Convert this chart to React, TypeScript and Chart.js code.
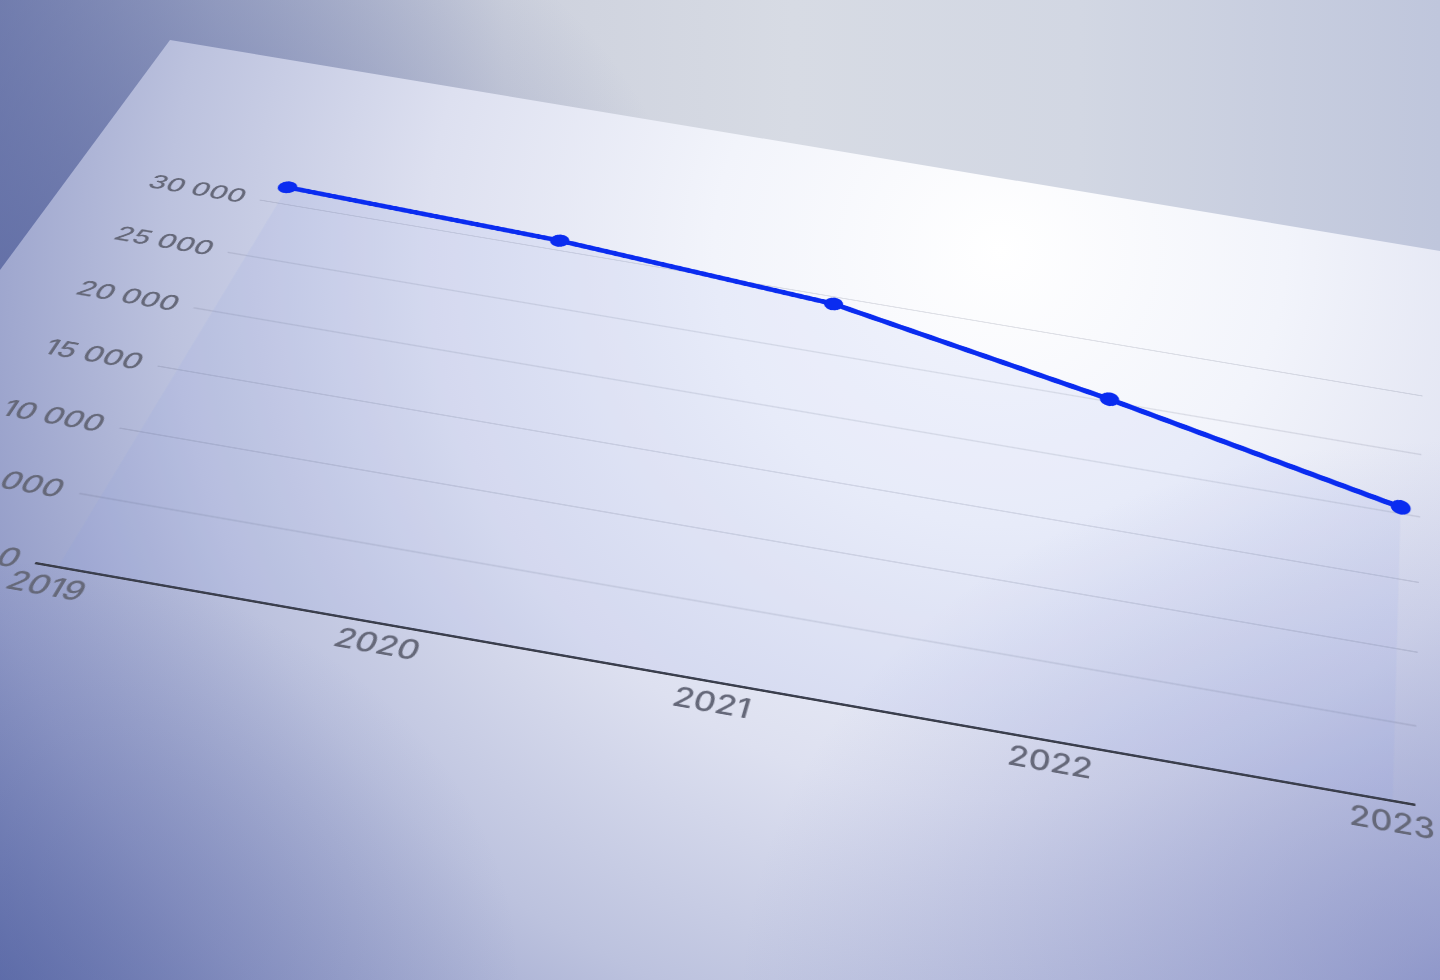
import React, { useEffect, useRef } from 'react';
import { Chart, registerables } from 'chart.js';

Chart.register(...registerables);

// ---- data ----
const years = ['2019', '2020', '2021', '2022', '2023'];
const values = [31550, 30870, 29360, 25220, 20490];
const yTicks = [0, 5000, 10000, 15000, 20000, 25000, 30000];
const yTop = 33000;
const refValue = 30000;

// ---- style ----
const FONT = 'Inter, "Open Sans", sans-serif';
const LINE = '#0a2cf0';
const TICK_COLOR = '#656879';

// Where the tilted sheet places (first year, 0), (last year, 0),
// (last year, 30000) and (first year, 30000) on screen.
const PLANE: number[][] = [
  [58, 567],
  [1393, 801],
  [1404, 392.8],
  [278, 203],
];

const CW = 1570;
const CH = 740;

const fmt = (v: number) => String(v).replace(/\B(?=(\d{3})+(?!\d))/g, ' ');

function planeMatrix(xa: number, wx: number, yb: number, hy: number) {
  const [[x0, y0], [x1, y1], [x2, y2], [x3, y3]] = PLANE;
  const dx1 = x1 - x2, dx2 = x3 - x2, dx3 = x0 - x1 + x2 - x3;
  const dy1 = y1 - y2, dy2 = y3 - y2, dy3 = y0 - y1 + y2 - y3;
  const det = dx1 * dy2 - dx2 * dy1;
  const g = (dx3 * dy2 - dx2 * dy3) / det;
  const h = (dx1 * dy3 - dx3 * dy1) / det;
  const a = x1 - x0 + g * x1, b = x3 - x0 + h * x3, c = x0;
  const d = y1 - y0 + g * y1, e = y3 - y0 + h * y3, f = y0;
  const A1 = a / wx, A2 = -b / hy, A3 = c - (a * xa) / wx + (b * yb) / hy;
  const B1 = d / wx, B2 = -e / hy, B3 = f - (d * xa) / wx + (e * yb) / hy;
  const C1 = g / wx, C2 = -h / hy, C3 = 1 - (g * xa) / wx + (h * yb) / hy;
  return `matrix3d(${A1},${B1},0,${C1},${A2},${B2},0,${C2},0,0,1,0,${A3},${B3},0,${C3})`;
}

export default function App() {
  const canvasRef = useRef<HTMLCanvasElement | null>(null);
  const wrapRef = useRef<HTMLDivElement | null>(null);

  useEffect(() => {
    const canvas = canvasRef.current;
    const wrap = wrapRef.current;
    if (!canvas || !wrap) return;
    const chart = new Chart(canvas, {
      type: 'line',
      data: {
        datasets: [
          {
            data: values.map((v, i) => ({ x: i, y: v })),
            borderColor: LINE,
            borderWidth: 8,
            pointRadius: 11,
            pointBackgroundColor: LINE,
            pointBorderColor: LINE,
            pointBorderWidth: 0,
            fill: 'origin',
            backgroundColor: 'rgba(125,140,235,0.09)',
            tension: 0,
            clip: false as any,
          },
        ],
      },
      options: {
        responsive: false,
        animation: false,
        devicePixelRatio: 2,
        layout: { padding: { left: 10, right: 40, top: 20, bottom: 10 } },
        plugins: { legend: { display: false }, tooltip: { enabled: false } },
        scales: {
          x: {
            type: 'linear',
            min: -0.065,
            max: years.length - 1 + 0.065,
            afterBuildTicks: (scale: any) => {
              scale.ticks = years.map((_, i) => ({ value: i }));
            },
            ticks: {
              autoSkip: false,
              maxRotation: 0,
              padding: 7,
              color: TICK_COLOR,
              font: { family: FONT, size: 33, weight: '500' },
              callback: (v: any) => years[v as number] ?? '',
            },
            grid: { display: false, drawTicks: false },
            border: { display: true, color: '#3a3d49', width: 3 },
          },
          y: {
            min: 0,
            max: yTop,
            afterBuildTicks: (scale: any) => {
              scale.ticks = yTicks.map((v) => ({ value: v }));
            },
            ticks: {
              autoSkip: false,
              padding: 18,
              color: TICK_COLOR,
              font: { family: FONT, size: 33, weight: '500' },
              callback: (v: any) => fmt(v as number),
            },
            grid: { color: 'rgba(70,74,100,0.15)', lineWidth: 2, drawTicks: false },
            border: { display: false },
          },
        },
      },
    } as any);
    const xs = chart.scales.x;
    const ys = chart.scales.y;
    const xa = xs.getPixelForValue(0);
    const xb = xs.getPixelForValue(years.length - 1);
    const yb = ys.getPixelForValue(0);
    const yt = ys.getPixelForValue(refValue);
    wrap.style.transform = planeMatrix(xa, xb - xa, yb, yb - yt);
    return () => chart.destroy();
  }, []);

  return (
    <div>
      <div
        style={{
          position: 'fixed',
          left: 0,
          top: 0,
          width: 1440,
          height: 980,
          background:
            'radial-gradient(ellipse 700px 500px at 0px 300px, rgba(95,108,165,0.85), rgba(95,108,165,0) 100%), linear-gradient(90deg, #7a85b2 0%, #a3abc8 15%, #cdd1dd 35%, #d7dbe4 55%, #d2d7e3 75%, #bfc6dc 100%)',
        }}
      />
      <div
        style={{
          position: 'fixed',
          left: 0,
          top: 0,
          width: 1440,
          height: 980,
          clipPath: 'polygon(170px 40px, 1440px 251px, 1440px 980px, 0px 980px, 0px 270px)',
          background:
            'radial-gradient(ellipse 700px 560px at 1440px 1000px, rgba(105,115,185,0.5), rgba(105,115,185,0) 100%), radial-gradient(ellipse 520px 420px at 0px 980px, rgba(80,95,160,0.45), rgba(80,95,160,0) 100%), radial-gradient(ellipse 1300px 1250px at 1000px 250px, #ffffff 0%, #f2f4fb 22%, #dde0f0 44%, #bcc2de 64%, #939cc8 82%, #5f6eaa 100%)',
        }}
      />
      <div
        ref={wrapRef}
        style={{ position: 'fixed', left: 0, top: 0, width: CW, height: CH, transformOrigin: '0 0' }}
      >
        <canvas ref={canvasRef} width={CW} height={CH} style={{ display: 'block' }} />
      </div>
    </div>
  );
}
